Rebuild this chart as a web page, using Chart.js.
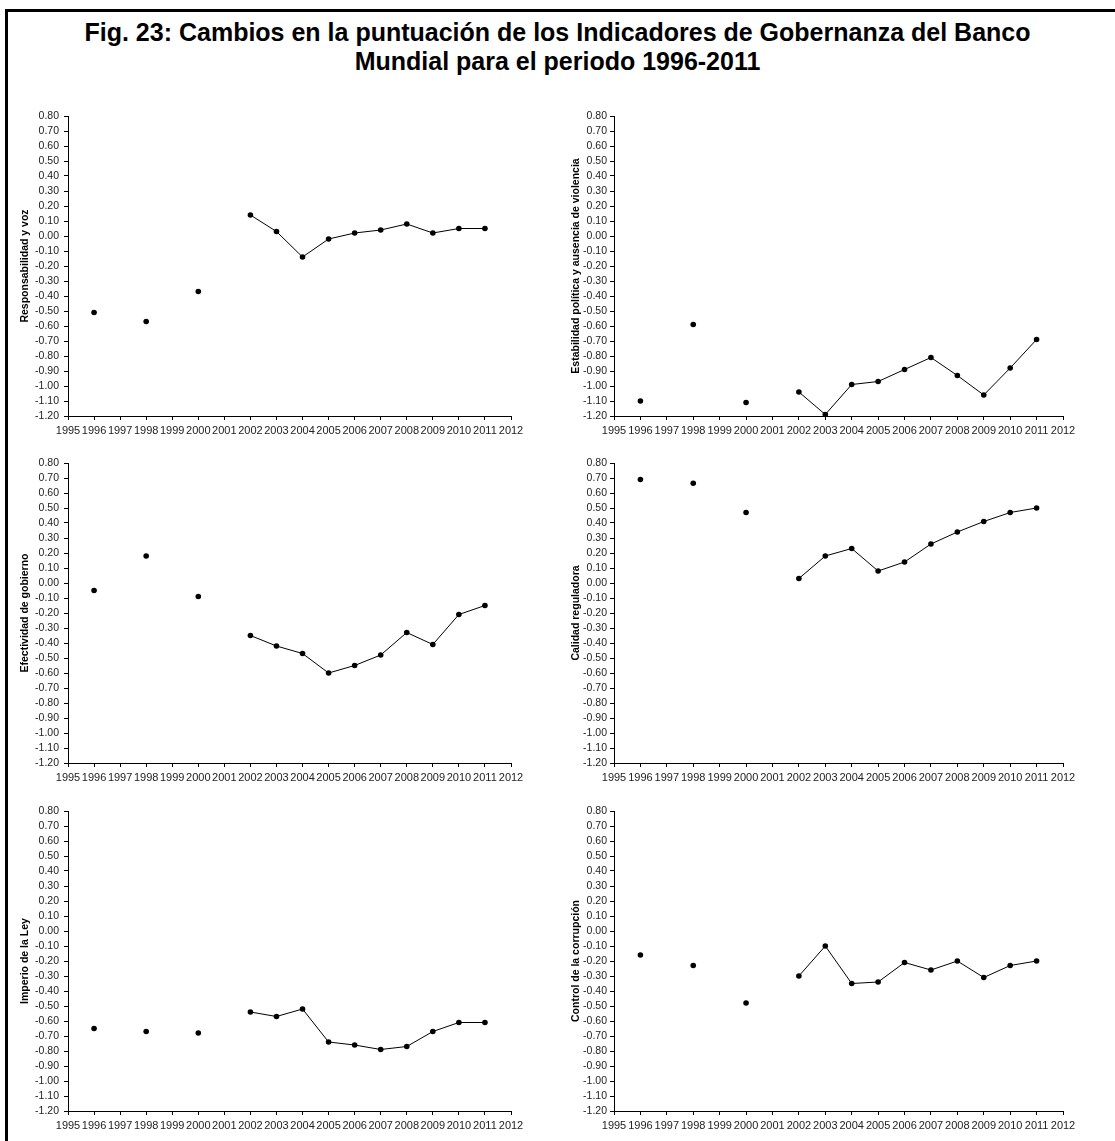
<!DOCTYPE html>
<html>
<head>
<meta charset="utf-8">
<script src="https://cdn.jsdelivr.net/npm/chart.js@4.4.1/dist/chart.umd.min.js"></script>
<style>
  body { margin: 0; background: #fff; font-family: Arial, "Liberation Sans", sans-serif; }
  #page { position: relative; width: 1115px; height: 1141px; overflow: hidden; }
  #frame { position: absolute; left: 5px; top: 9px; width: 1200px; height: 1200px; border: 3px solid #000; box-sizing: border-box; }
  #title { position: absolute; left: 0; top: 18px; width: 1115px; text-align: center; font-weight: bold; font-size: 25px; line-height: 29px; color: #000; }
  canvas { position: absolute; }
</style>
</head>
<body>
<div id="page">
  <div id="frame"></div>
  <div id="title">Fig. 23: Cambios en la puntuación de los Indicadores de Gobernanza del Banco<br>Mundial para el periodo 1996-2011</div>
  <canvas id="c0"></canvas>
  <canvas id="c1"></canvas>
  <canvas id="c2"></canvas>
  <canvas id="c3"></canvas>
  <canvas id="c4"></canvas>
  <canvas id="c5"></canvas>
</div>
<script>
// years: early surveys were every two years, then yearly
var earlyYears = [1996, 1998, 2000];
var lateYears = [2002, 2003, 2004, 2005, 2006, 2007, 2008, 2009, 2010, 2011];

var voz_early = [-0.51, -0.57, -0.37];
var voz_late = [0.14, 0.03, -0.14, -0.02, 0.02, 0.04, 0.08, 0.02, 0.05, 0.05];

var estabilidad_early = [-1.10, -0.59, -1.11];
var estabilidad_late = [-1.04, -1.19, -0.99, -0.97, -0.89, -0.81, -0.93, -1.06, -0.88, -0.69];

var efectividad_early = [-0.05, 0.18, -0.09];
var efectividad_late = [-0.35, -0.42, -0.47, -0.60, -0.55, -0.48, -0.33, -0.41, -0.21, -0.15];

var calidad_early = [0.69, 0.665, 0.47];
var calidad_late = [0.03, 0.18, 0.23, 0.08, 0.14, 0.26, 0.34, 0.41, 0.47, 0.50];

var ley_early = [-0.65, -0.67, -0.68];
var ley_late = [-0.54, -0.57, -0.52, -0.74, -0.76, -0.79, -0.77, -0.67, -0.61, -0.61];

var corrupcion_early = [-0.16, -0.23, -0.48];
var corrupcion_late = [-0.30, -0.10, -0.35, -0.34, -0.21, -0.26, -0.20, -0.31, -0.23, -0.20];

var titles = [
  'Responsabilidad y voz',
  'Estabilidad política y ausencia de violencia',
  'Efectividad de gobierno',
  'Calidad reguladora',
  'Imperio de la Ley',
  'Control de la corrupción'
];
var earlyData = [voz_early, estabilidad_early, efectividad_early, calidad_early, ley_early, corrupcion_early];
var lateData = [voz_late, estabilidad_late, efectividad_late, calidad_late, ley_late, corrupcion_late];

var xMin = 1995, xMax = 2012;
var yMin = -1.2, yMax = 0.8;

// panel layout: canvas box and plot area inside it
var cols = [
  { left: 0, width: 555, plotLeft: 68, plotRight: 511, titlePad: 19, labelPad: 5 },
  { left: 555, width: 560, plotLeft: 614, plotRight: 1063, titlePad: 15, labelPad: 3 }
];
var rows = [
  { top: 100, plotTop: 116, plotBottom: 416 },
  { top: 447, plotTop: 463, plotBottom: 763 },
  { top: 795, plotTop: 811, plotBottom: 1111 }
];

function pts(xs, ys) {
  return xs.map(function (x, i) { return { x: x, y: ys[i] }; });
}

Chart.defaults.font.family = 'Arial, "Liberation Sans", sans-serif';
Chart.defaults.color = '#000';
Chart.defaults.animation = false;

for (var i = 0; i < 6; i++) {
  var col = cols[i % 2];
  var row = rows[Math.floor(i / 2)];
  var canvas = document.getElementById('c' + i);
  var h = row.plotBottom - row.top + 28;
  canvas.style.left = col.left + 'px';
  canvas.style.top = row.top + 'px';
  canvas.width = col.width;
  canvas.height = h;
  canvas.style.width = col.width + 'px';
  canvas.style.height = h + 'px';

  var yWidth = col.plotLeft - col.left;
  var padRight = col.left + col.width - col.plotRight;
  var padTop = row.plotTop - row.top;

  new Chart(canvas.getContext('2d'), {
    type: 'line',
    data: {
      datasets: [{
        data: pts(earlyYears, earlyData[i]),
        showLine: false,
        pointRadius: 2.8,
        pointBackgroundColor: '#000',
        pointBorderColor: '#000',
        pointBorderWidth: 0,
        clip: false
      }, {
        data: pts(lateYears, lateData[i]),
        borderColor: '#000',
        borderWidth: 1,
        pointRadius: 2.8,
        pointBackgroundColor: '#000',
        pointBorderColor: '#000',
        pointBorderWidth: 0,
        tension: 0,
        clip: false
      }]
    },
    options: {
      responsive: false,
      layout: { padding: { top: padTop, right: padRight, left: 0, bottom: 0 } },
      plugins: { legend: { display: false }, tooltip: { enabled: false } },
      scales: {
        x: {
          type: 'linear',
          min: xMin,
          max: xMax,
          afterFit: function (s) { s.height = 28; },
          ticks: {
            stepSize: 1,
            autoSkip: false,
            maxRotation: 0,
            padding: 4,
            font: { size: 11 },
            color: '#222',
            callback: function (v) { return String(v); }
          },
          grid: { drawOnChartArea: false, tickLength: 4, color: '#000', lineWidth: 1 },
          border: { color: '#000', width: 1 }
        },
        y: {
          min: yMin,
          max: yMax,
          afterFit: (function (w) { return function (s) { s.width = w; }; })(yWidth),
          ticks: {
            stepSize: 0.1,
            autoSkip: false,
            padding: col.labelPad,
            font: { size: 10.5 },
            color: '#222',
            callback: function (v) {
              if (Math.abs(v) < 1e-9) return '0.00';
              return v.toFixed(2);
            }
          },
          grid: { drawOnChartArea: false, tickLength: 4, color: '#000', lineWidth: 1 },
          border: { color: '#000', width: 1 },
          title: {
            display: true,
            text: titles[i],
            font: { size: 10.5, weight: 'bold' },
            padding: { top: col.titlePad, bottom: 4 }
          }
        }
      }
    }
  });
}
</script>
</body>
</html>
